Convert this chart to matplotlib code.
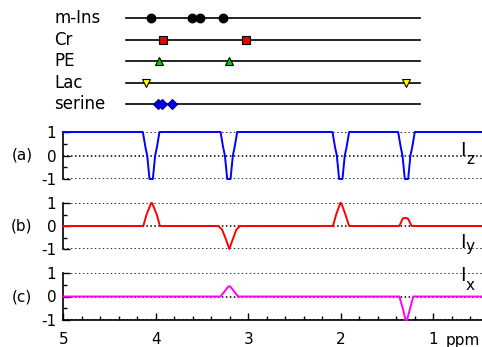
import numpy as np
import matplotlib.pyplot as plt
from matplotlib.ticker import MultipleLocator

plt.rcParams['font.family'] = 'DejaVu Sans'
plt.rcParams['axes.unicode_minus'] = False

# metabolite peak positions (ppm)
names = ["m-Ins", "Cr", "PE", "Lac", "serine"]
mins_ppm = [4.05, 3.61, 3.52, 3.27]
cr_ppm = [3.92, 3.03]
pe_ppm = [3.97, 3.21]
lac_ppm = [4.11, 1.30]
ser_ppm = [3.98, 3.93, 3.82]

# Iz profile
iz_ppm = [5.0,
          4.14, 4.112, 4.093, 4.068, 4.032, 4.007, 3.988, 3.96,
          3.30, 3.272, 3.253, 3.228, 3.192, 3.167, 3.148, 3.12,
          2.09, 2.062, 2.043, 2.018, 1.982, 1.957, 1.938, 1.91,
          1.38, 1.352, 1.333, 1.308, 1.272, 1.247, 1.228, 1.20,
          0.4]
iz_val = [1,
          1, 0.35, 0, -1, -1, 0, 0.35, 1,
          1, 0.35, 0, -1, -1, 0, 0.35, 1,
          1, 0.35, 0, -1, -1, 0, 0.35, 1,
          1, 0.35, 0, -1, -1, 0, 0.35, 1,
          1]

# Iy profile
iy_ppm = [5.0,
          4.135, 4.10, 4.05, 4.04, 3.99, 3.955,
          3.324, 3.284, 3.24, 3.205, 3.17, 3.128, 3.09,
          2.085, 2.05, 2.005, 1.995, 1.95, 1.91,
          1.367, 1.33, 1.30, 1.275, 1.234,
          0.4]
iy_val = [0,
          0, 0.5, 1, 1, 0.5, 0,
          0, -0.15, -0.6, -1, -0.6, -0.15, 0,
          0, 0.5, 1, 1, 0.5, 0,
          0, 0.33, 0.35, 0.33, 0,
          0]

# Ix profile
ix_ppm = [5.0,
          3.30, 3.25, 3.215, 3.195, 3.16, 3.11,
          1.367, 1.33, 1.30, 1.285, 1.25, 1.216,
          0.4]
ix_val = [0,
          0, 0.25, 0.43, 0.43, 0.25, 0,
          0, -0.5, -1, -1, -0.5, 0,
          0]

W, H = 482, 347
fig = plt.figure(figsize=(W / 100, H / 100), dpi=100)

x0 = 63.3
ppm_px = 92.5
xlim = (5, 5 - (W - x0) / ppm_px)


def box(top, bottom):
    return [x0 / W, 1 - bottom / H, (W - x0) / W, (bottom - top) / H]


# top: metabolite sticks
ax0 = fig.add_axes(box(8, 114))
ax0.set_xlim(xlim)
ax0.set_ylim(4.45, -0.48)
ax0.axis("off")
sets = [mins_ppm, cr_ppm, pe_ppm, lac_ppm, ser_ppm]
styles = [dict(marker="o", color="black", mec="black", ms=6.3),
          dict(marker="s", color="#ee0000", mec="black", ms=6.0),
          dict(marker="^", color="#00cc00", mec="black", ms=6.3),
          dict(marker="v", color="#ffff00", mec="black", ms=6.3),
          dict(marker="D", color="#0000ee", mec="#000080", ms=5.6)]
for i, (nm, pp, st) in enumerate(zip(names, sets, styles)):
    ax0.plot([4.32, 1.14], [i, i], color="black", lw=1.2, clip_on=False)
    ax0.plot(pp, [i] * len(pp), ls="none", mew=0.8, clip_on=False, **st)
    ax0.text(5.10, i, nm, ha="left", va="center", fontsize=12)

panels = [("(a)", iz_ppm, iz_val, "#0000ff", 132, 179),
          ("(b)", iy_ppm, iy_val, "#ff0000", 203, 249),
          ("(c)", ix_ppm, ix_val, "#ff00ff", 273, 320)]
for k, (lab, xs, ys, col, top, bot) in enumerate(panels):
    ax = fig.add_axes(box(top, bot))
    ax.set_xlim(xlim)
    ax.set_ylim(-1, 1)
    for s in ["top", "right"]:
        ax.spines[s].set_visible(False)
    ax.spines["left"].set_linewidth(1.2)
    ax.spines["bottom"].set_linewidth(1.2)
    for yv in [-1, 0, 1]:
        ax.axhline(yv, color="black", lw=1.1, ls=(0, (1, 1.6)), zorder=1)
    ax.plot(xs, ys, color=col, lw=1.4, clip_on=False, zorder=3)
    ax.set_yticks([-1, 0, 1])
    ax.yaxis.set_minor_locator(MultipleLocator(0.5))
    ax.tick_params(axis="y", which="both", direction="in", width=1.0,
                   labelsize=11, pad=5)
    ax.tick_params(axis="y", which="major", length=5)
    ax.tick_params(axis="y", which="minor", length=3)
    ax.text(-0.099, 0.5, lab, transform=ax.transAxes, ha="center",
            va="center", fontsize=11)
    if k < 2:
        ax.spines["bottom"].set_visible(False)
        ax.set_xticks([])
    else:
        ax.set_xticks([5, 4, 3, 2, 1])
        ax.set_xticklabels(["5", "4", "3", "2", "1"])
        ax.xaxis.set_minor_locator(MultipleLocator(0.2))
        ax.tick_params(axis="x", which="both", direction="in", width=1.0,
                       labelsize=11, pad=9)
        ax.tick_params(axis="x", which="major", length=5)
        ax.tick_params(axis="x", which="minor", length=3)
        ax.annotate("ppm", xy=(0.87, 0), xycoords=("data", "axes fraction"),
                    xytext=(0, -9), textcoords="offset points",
                    ha="left", va="top", fontsize=11)

# component labels
for (sx, sy, sub, subx, suby) in [(460.0, 155.7, "z", 466.0, 164.3),
                                  (460.0, 247.7, "y", 466.0, 251.0),
                                  (460.0, 281.0, "x", 466.0, 290.0)]:
    fig.text(sx / W, 1 - sy / H, "I", fontsize=13.5, ha="left", va="baseline")
    fig.text(subx / W, 1 - suby / H, sub, fontsize=11, ha="left",
             va="baseline")

fig.savefig("out.png", dpi=100)
